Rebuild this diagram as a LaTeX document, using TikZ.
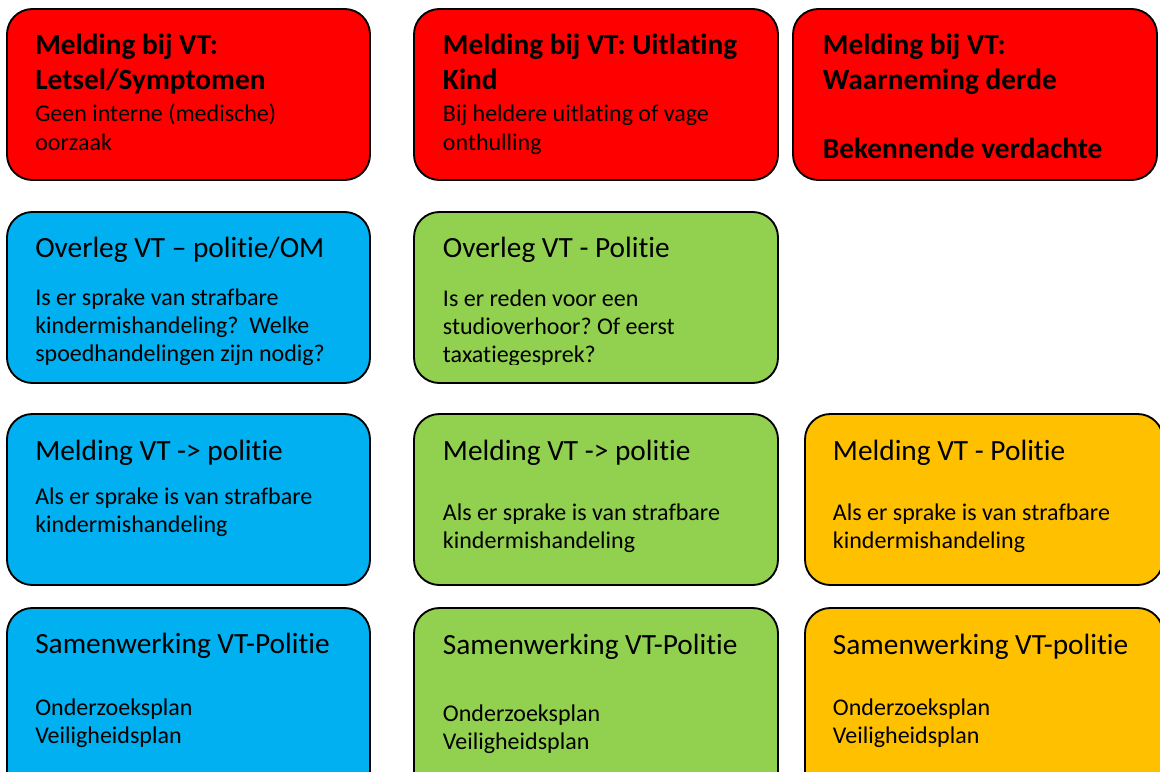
\documentclass[tikz,border=0pt]{standalone}
\usepackage{fontspec}
\setmainfont{Carlito}[Ligatures=NoCommon]
\usetikzlibrary{fit}
\definecolor{vtred}{HTML}{FF0000}
\definecolor{vtblue}{HTML}{00B0F0}
\definecolor{vtgreen}{HTML}{92D050}
\definecolor{vtorange}{HTML}{FFC000}
\frenchspacing
\begin{document}
\begin{tikzpicture}[x=0.75pt, y=-0.75pt,
		box/.style={draw, rounded corners=19pt, line width=1.4pt, inner sep=0pt},
		title/.style={anchor=base west, align=left, inner sep=0pt, font=\fontsize{22}{26.1}\selectfont\bfseries},
		head/.style={anchor=base west, inner sep=0pt, font=\fontsize{22}{27}\selectfont},
		body/.style={anchor=base west, align=left, inner sep=0pt, font=\fontsize{18}{21}\selectfont}
		]
	\useasboundingbox (0,0) rectangle (1160,771);
	\clip (0,0) rectangle (1160,771);
	% rij 1
	\node [box, fill=vtred, fit={(7,9) (370,180)}] (letsel) {};
	\node [box, fill=vtred, fit={(414,9) (778,180)}] (uitlating) {};
	\node [box, fill=vtred, fit={(793,9) (1157,180)}] (derde) {};
	\node [title] (letseltitel) at (35,89.3) {Melding bij VT:\\Letsel/Symptomen};
	\node [body, font=\fontsize{18}{21.75}\selectfont] (letseltekst) at (35,150.5) {Geen interne (medische)\\oorzaak};
	\node [title] (uitlatingtitel) at (442.7,89.3) {Melding bij VT: Uitlating\\Kind};
	\node [body, font=\fontsize{18}{21.75}\selectfont] (uitlatingtekst) at (442.7,150) {Bij heldere uitlating of vage\\onthulling};
	\node [title] (derdetitel) at (822.7,89.3) {Melding bij VT:\\Waarneming derde};
	\node [title] (verdachte) at (822.7,158.3) {Bekennende verdachte};
	% rij 2
	\node [box, fill=vtblue, fit={(7,212) (370,383)}] (overlegom) {};
	\node [box, fill=vtgreen, fit={(414,212) (778,383)}] (overlegpol) {};
	\node [head] (overlegomkop) at (35,257.5) {Overleg VT – politie/OM};
	\node [head] (overlegpolkop) at (442.7,257.5) {Overleg VT - Politie};
	\begin{scope}
		\clip (0,0) rectangle (1160,364.5);
		\node [body] (overlegomtekst) at (35,361) {Is er sprake van strafbare\\kindermishandeling?~ Welke\\spoedhandelingen zijn nodig?};
		\node [body] (overlegpoltekst) at (442.7,362) {Is er reden voor een\\studioverhoor? Of eerst\\taxatiegesprek?};
	\end{scope}
	% rij 3
	\node [box, fill=vtblue, fit={(7,414) (370,585)}] (meldblauw) {};
	\node [box, fill=vtgreen, fit={(414,414) (778,585)}] (meldgroen) {};
	\node [box, fill=vtorange, fit={(805,414) (1163,585)}] (meldoranje) {};
	\node [head] (meldblauwkop) at (35,460) {Melding VT -> politie};
	\node [head] (meldgroenkop) at (442.7,460) {Melding VT -> politie};
	\node [head] (meldoranjekop) at (832.7,460) {Melding VT - Politie};
	\node [body] (meldblauwtekst) at (35,532) {Als er sprake is van strafbare\\kindermishandeling};
	\node [body] (meldgroentekst) at (442.7,548.3) {Als er sprake is van strafbare\\kindermishandeling};
	\node [body] (meldoranjetekst) at (832.7,548.3) {Als er sprake is van strafbare\\kindermishandeling};
	% rij 4
	\node [box, fill=vtblue, fit={(7,608) (370,800)}] (samenblauw) {};
	\node [box, fill=vtgreen, fit={(414,608) (778,800)}] (samengroen) {};
	\node [box, fill=vtorange, fit={(805,608) (1163,800)}] (samenoranje) {};
	\node [head] (samenblauwkop) at (35,653.5) {Samenwerking VT-Politie};
	\node [head] (samengroenkop) at (442.7,654) {Samenwerking VT-Politie};
	\node [head] (samenoranjekop) at (832.7,654) {Samenwerking VT-politie};
	\node [body] (samenblauwtekst) at (35,743.3) {Onderzoeksplan\\Veiligheidsplan};
	\node [body] (samengroentekst) at (442.7,749.3) {Onderzoeksplan\\Veiligheidsplan};
	\node [body] (samenoranjetekst) at (832.7,743.3) {Onderzoeksplan\\Veiligheidsplan};
\end{tikzpicture}
\end{document}
